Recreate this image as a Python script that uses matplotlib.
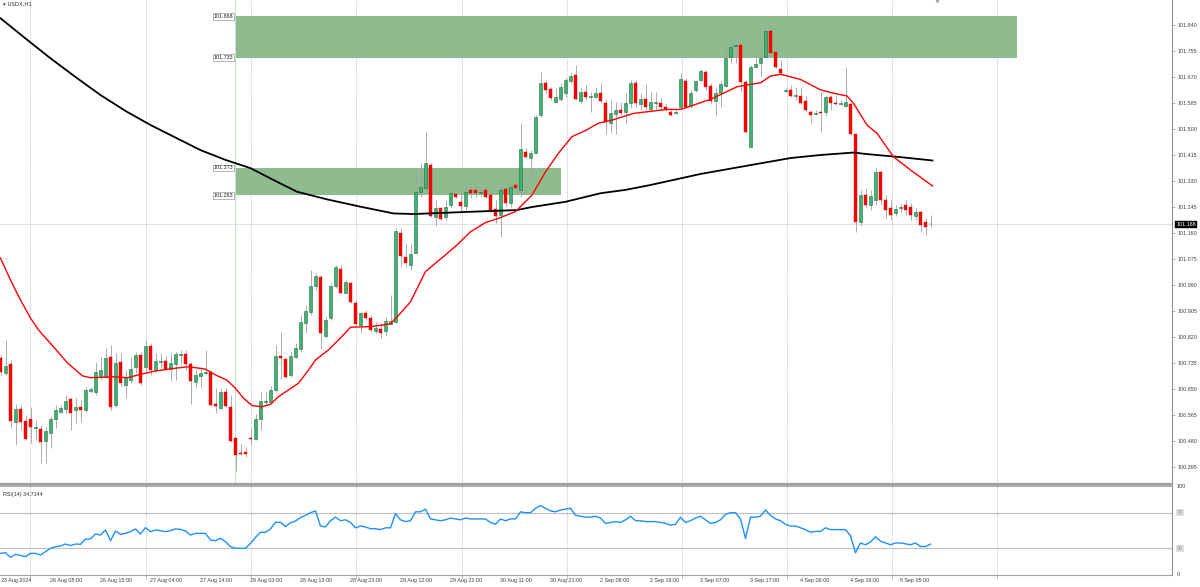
import matplotlib
matplotlib.use('Agg')
import matplotlib.pyplot as plt
from matplotlib.patches import Rectangle
import numpy as np

# ---------------- data ----------------
opens = [
100.751,100.701,100.732,100.542,100.585,100.545,100.551,100.522,100.519,100.481,
100.505,100.551,100.576,100.585,100.616,100.581,100.590,100.581,100.644,100.641,
100.690,100.690,100.756,100.598,100.739,100.663,100.679,100.723,100.761,100.723,
100.791,100.712,100.737,100.742,100.715,100.731,100.761,100.765,100.732,100.672,
100.693,100.702,100.707,100.601,100.588,100.641,100.590,100.491,100.440,100.445,
100.491,100.486,100.552,100.607,100.609,100.647,100.758,100.747,100.696,100.756,
100.781,100.865,100.903,100.987,101.017,100.823,100.881,100.987,101.041,100.965,
100.998,100.932,100.859,100.898,100.881,100.841,100.845,100.841,100.863,100.870,
101.161,101.083,101.055,101.096,101.293,101.306,101.382,101.211,101.241,101.213,
101.252,101.288,101.262,101.248,101.301,101.301,101.292,101.301,101.284,101.238,
101.219,101.303,101.257,101.317,101.301,101.426,101.406,101.422,101.546,101.651,
101.631,101.589,101.597,101.617,101.657,101.677,101.592,101.622,101.604,101.606,
101.618,101.586,101.519,101.549,101.562,101.557,101.586,101.651,101.582,101.597,
101.564,101.584,101.586,101.573,101.557,101.551,101.573,101.658,101.575,101.628,
101.660,101.686,101.640,101.593,101.617,101.640,101.736,101.771,101.775,101.655,
101.442,101.704,101.717,101.736,101.821,101.751,101.696,101.625,101.628,101.608,
101.608,101.593,101.557,101.549,101.557,101.557,101.606,101.586,101.583,101.576,
101.582,101.484,101.196,101.284,101.252,101.268,101.360,101.268,101.242,101.225,
101.242,101.252,101.245,101.216,101.229,101.196,101.190]
highs = [
100.761,100.810,100.745,100.601,100.598,100.565,100.592,100.549,100.532,100.527,
100.562,100.598,100.598,100.630,100.621,100.621,100.614,100.658,100.657,100.739,
100.756,100.784,100.794,100.768,100.768,100.712,100.756,100.772,100.772,100.810,
100.800,100.768,100.768,100.761,100.768,100.772,100.778,100.778,100.739,100.712,
100.723,100.778,100.712,100.652,100.652,100.652,100.630,100.494,100.469,100.461,
100.522,100.567,100.641,100.641,100.660,100.794,100.835,100.752,100.772,100.800,
100.892,100.925,101.039,101.028,101.023,100.886,100.996,101.055,101.055,101.006,
101.001,100.941,100.903,100.908,100.892,100.870,100.865,100.886,100.957,101.175,
101.175,101.126,101.126,101.366,101.388,101.491,101.388,101.268,101.246,101.268,
101.301,101.295,101.295,101.306,101.317,101.317,101.314,101.317,101.295,101.268,
101.311,101.311,101.317,101.322,101.519,101.437,101.431,101.546,101.687,101.660,
101.638,101.633,101.649,101.666,101.682,101.709,101.633,101.644,101.622,101.638,
101.649,101.597,101.595,101.589,101.589,101.617,101.660,101.660,101.617,101.647,
101.622,101.622,101.600,101.585,101.568,101.562,101.682,101.666,101.628,101.660,
101.695,101.693,101.649,101.638,101.658,101.758,101.775,101.777,101.780,101.660,
101.709,101.747,101.775,101.837,101.837,101.758,101.726,101.633,101.644,101.636,
101.633,101.608,101.562,101.562,101.622,101.611,101.611,101.611,101.595,101.704,
101.586,101.487,101.301,101.307,101.301,101.373,101.366,101.284,101.268,101.252,
101.255,101.268,101.258,101.242,101.235,101.209,101.219]
lows = [
100.693,100.696,100.523,100.467,100.516,100.483,100.474,100.483,100.408,100.408,
100.457,100.523,100.572,100.572,100.516,100.539,100.543,100.576,100.637,100.630,
100.679,100.686,100.581,100.592,100.658,100.621,100.669,100.701,100.663,100.701,
100.696,100.701,100.719,100.712,100.676,100.679,100.729,100.712,100.601,100.654,
100.652,100.696,100.596,100.571,100.585,100.592,100.478,100.382,100.434,100.427,
100.467,100.483,100.516,100.598,100.604,100.641,100.684,100.687,100.690,100.750,
100.772,100.832,100.892,100.974,100.780,100.816,100.876,100.979,100.963,100.961,
100.932,100.859,100.832,100.876,100.837,100.832,100.816,100.822,100.859,100.865,
101.050,101.050,101.039,101.094,101.279,101.295,101.213,101.183,101.203,101.203,
101.241,101.274,101.230,101.230,101.274,101.279,101.278,101.274,101.230,101.193,
101.148,101.248,101.246,101.301,101.279,101.404,101.333,101.421,101.540,101.617,
101.595,101.584,101.593,101.606,101.649,101.595,101.584,101.595,101.557,101.600,
101.584,101.484,101.486,101.484,101.546,101.519,101.568,101.573,101.562,101.562,
101.557,101.562,101.562,101.559,101.543,101.549,101.568,101.568,101.568,101.622,
101.655,101.628,101.582,101.543,101.573,101.638,101.715,101.715,101.622,101.488,
101.440,101.704,101.671,101.731,101.742,101.698,101.676,101.622,101.604,101.595,
101.582,101.557,101.519,101.546,101.491,101.543,101.562,101.578,101.578,101.573,
101.480,101.163,101.183,101.242,101.235,101.252,101.252,101.209,101.203,101.216,
101.225,101.219,101.203,101.203,101.163,101.153,101.180]
closes = [
100.706,100.725,100.547,100.585,100.542,100.487,100.527,100.527,100.478,100.513,
100.551,100.581,100.587,100.611,100.571,100.590,100.581,100.647,100.649,100.707,
100.712,100.750,100.592,100.736,100.669,100.690,100.717,100.761,100.669,100.791,
100.712,100.742,100.742,100.715,100.736,100.765,100.764,100.731,100.676,100.696,
100.701,100.707,100.599,100.595,100.641,100.595,100.481,100.434,100.439,100.437,
100.486,100.552,100.611,100.611,100.647,100.758,100.750,100.690,100.758,100.785,
100.870,100.905,100.987,101.020,100.832,100.876,100.987,101.048,100.965,101.001,
100.935,100.863,100.898,100.881,100.843,100.849,100.832,100.872,100.872,101.167,
101.085,101.061,101.091,101.295,101.312,101.388,101.216,101.241,101.206,101.246,
101.292,101.277,101.248,101.295,101.292,101.292,101.295,101.279,101.235,101.216,
101.301,101.259,101.311,101.306,101.434,101.410,101.422,101.540,101.651,101.628,
101.602,101.606,101.638,101.660,101.673,101.597,101.622,101.606,101.608,101.617,
101.593,101.523,101.551,101.562,101.551,101.586,101.651,101.586,101.597,101.573,
101.587,101.588,101.571,101.564,101.546,101.556,101.662,101.573,101.617,101.658,
101.691,101.636,101.593,101.617,101.647,101.731,101.769,101.775,101.655,101.491,
101.702,101.713,101.731,101.821,101.747,101.702,101.682,101.628,101.608,101.611,
101.586,101.562,101.546,101.553,101.551,101.606,101.584,101.582,101.585,101.587,
101.484,101.196,101.284,101.252,101.281,101.360,101.268,101.235,101.219,101.238,
101.245,101.235,101.219,101.229,101.186,101.180,101.188]

# red moving average (bar index, price)
ma_red_bar = [0,2,4,6,7.6,10.6,13.4,16.4,18,20,22.6,25.4,28,31,35,37.6,41,43,45.3,47,
              48.6,50.3,52.3,54,55.6,57.6,59.6,61.6,63,65.6,68,70,74,78,80,82,85,88.6,91.3,94,
              97,99.6,103,106.3,109,111.6,114.3,117,119.6,122.3,126.6,133.3,136,138.6,142,144.6,
              147.3,149.3,152,154,156,160,164,166.6,169.3,170.6,173.3,175.3,178.6,182,186.4]
ma_red_val = [101.078,101.006,100.941,100.882,100.843,100.788,100.735,100.693,100.687,100.688,
              100.690,100.687,100.698,100.709,100.718,100.723,100.715,100.696,100.679,100.652,
              100.620,100.596,100.592,100.600,100.625,100.647,100.669,100.712,100.745,100.778,
              100.817,100.852,100.854,100.863,100.898,100.935,101.034,101.083,101.121,101.164,
              101.194,101.208,101.230,101.284,101.360,101.421,101.475,101.495,101.519,101.529,
              101.551,101.564,101.564,101.578,101.597,101.617,101.638,101.644,101.651,101.673,
              101.679,101.662,101.628,101.617,101.608,101.584,101.513,101.486,101.409,101.366,
              101.314]
# black moving average
ma_blk_bar = [0,5,10,15,20,25,30,35,40,45,50,55,59.3,65.3,72,78.6,82.6,93.3,103.3,106.3,
              113,120,125,130,140,150,158,164,170.6,173.3,180,186.4]
ma_blk_val = [101.862,101.796,101.731,101.670,101.611,101.559,101.513,101.472,101.431,101.399,
              101.372,101.330,101.295,101.270,101.246,101.224,101.222,101.229,101.235,101.245,
              101.262,101.290,101.301,101.317,101.353,101.382,101.405,101.415,101.423,101.418,
              101.408,101.397]

rsi = [24.3,25.1,19.9,23.2,22.1,20.6,24.3,24.3,22.5,26.2,
       30.0,31.8,32.6,34.8,33.0,34.8,34.5,40.4,40.4,46.1,
       44.9,50.6,38.6,49.4,45.7,46.8,48.7,51.7,46.1,53.2,
       48.7,50.6,49.8,48.7,49.8,51.7,51.3,49.4,44.9,46.8,
       46.8,46.8,39.3,38.6,41.2,37.5,31.8,30.0,30.0,30.0,
       35.6,42.3,48.0,48.0,51.7,59.2,59.2,54.3,58.8,60.7,
       64.4,67,70,72,55,54,61,65,61,62,
       59,53,55,54,52,52,51,53,53,69,
       62,60,61,71,71,74,63,62,61,62,
       64,63,62,64,63,63,63,63,59,57,
       63,61,63,63,71,70,70,75,78,75,
       72,71,73,74,75,67,66,65,65,66,
       64,58,59,60,59,62,66,61,61,60,
       60,60,59,58,56,57,65,59,61,64,
       66,62,58,59,62,68,70,70,63,41,
       65,65,66,73,67,63,61,57,55,55,
       53,51,48,49,49,53,51,51,51,51,
       44,25,36,34,37,43,38,36,34,36,
       36,35,34,36,32,32,34.7144]

zone_low = [101.733, 101.283]
zone_high = [101.868, 101.373]
zone_start = [47.1, 47.1]
zone_end = [203.2, 112.1]

price_ticks = [101.840,101.755,101.670,101.585,101.500,101.415,101.330,101.245,101.160,
               101.075,100.990,100.905,100.820,100.735,100.650,100.565,100.480,100.395]
current_price = 101.188
rsi_current = 34.7144

time_labels = ["23 Aug 2024","26 Aug 05:00","26 Aug 15:00","27 Aug 04:00","27 Aug 14:00",
               "28 Aug 03:00","28 Aug 13:00","28 Aug 23:00","29 Aug 12:00","29 Aug 22:00",
               "30 Aug 11:00","30 Aug 21:00","2 Sep 08:00","2 Sep 18:00","3 Sep 07:00",
               "3 Sep 17:00","4 Sep 06:00","4 Sep 16:00","5 Sep 05:00"]
time_label_bars = list(range(0, 181, 10))
grid_bars = [5.9, 29.0, 50.1, 71.0, 92.2, 113.2, 136.2, 157.2, 178.2, 199.2]

# ---------------- figure ----------------
W, H = 1200, 587
FONT = 'Liberation Sans'
FS = 3.9
fig = plt.figure(figsize=(W/100, H/100), dpi=100)
fig.patch.set_facecolor('white')

def fy(ypx):
    return 1 - ypx / H

ax = fig.add_axes([0, fy(484), 1172 / W, 484 / H])
axr = fig.add_axes([0, fy(575), 1172 / W, 89 / H], sharex=ax)

XL = (-0.1, 234.3)
ax.set_xlim(*XL)
ax.set_ylim(100.3395, 101.9217)

o = np.array(opens); h = np.array(highs); l = np.array(lows); c = np.array(closes)
idx = np.arange(len(o))
up = c >= o

# grid lines
for g in grid_bars:
    ax.axvline(g, color='#b0b0b0', lw=0.6, ls=(0, (1, 1.5)), zorder=0.6)
    axr.axvline(g, color='#b0b0b0', lw=0.6, ls=(0, (1, 1.5)), zorder=0.6)

# zones
for lo, hi, s, e in zip(zone_low, zone_high, zone_start, zone_end):
    ax.add_patch(Rectangle((s, lo), e - s, hi - lo, facecolor='#8fbc8f', edgecolor='none', zorder=1))
    for v in (lo, hi):
        ax.text(s - 0.6, v, f'{v:.3f}', ha='right', va='center', fontsize=FS, family=FONT,
                color='#202020', zorder=7,
                bbox=dict(boxstyle='square,pad=0.15', fc='white', ec='#808080', lw=0.4))

# vertical line object
ax.axvline(46.9, color='#c4e6c4', lw=0.7, zorder=0.7)
# bid line
ax.axhline(current_price, color='#dcdcdc', lw=0.6, zorder=0.7)

# candles
ax.vlines(idx, l, h, color='#a0a0a0', lw=0.6, zorder=3)
body_lo = np.minimum(o, c)
body_h = np.maximum(np.abs(c - o), 0.0015)
ax.bar(idx[up], body_h[up], bottom=body_lo[up], width=0.74, color='#3cb371',
       edgecolor='#2b6e45', linewidth=0.4, zorder=4)
ax.bar(idx[~up], body_h[~up], bottom=body_lo[~up], width=0.74, color='#ff0000',
       edgecolor='#e00000', linewidth=0.3, zorder=4)

# moving averages
ax.plot(ma_blk_bar, ma_blk_val, color='black', lw=1.3, zorder=5, solid_joinstyle='round')
ax.plot(ma_red_bar, ma_red_val, color='red', lw=1.0, zorder=5, solid_joinstyle='round')

# main axes styling
for s in ('top', 'left'):
    ax.spines[s].set_visible(False)
ax.spines['right'].set_color('#909090'); ax.spines['right'].set_linewidth(0.8)
ax.spines['bottom'].set_color('#a0a0a0'); ax.spines['bottom'].set_linewidth(1.6)
ax.yaxis.tick_right()
ax.set_yticks(price_ticks)
ax.set_yticklabels([f'{p:.3f}' for p in price_ticks], fontsize=FS, family=FONT, color='#404040')
ax.tick_params(axis='y', length=2, width=0.5, color='#909090', pad=2)
ax.tick_params(axis='x', bottom=False, labelbottom=False)

ax.text(1.0035, current_price, f'{current_price:.3f}', transform=ax.get_yaxis_transform(),
        ha='left', va='center', fontsize=FS, family=FONT, color='white', zorder=8, clip_on=False,
        bbox=dict(boxstyle='square,pad=0.2', fc='black', ec='black', lw=0.3))
ax.text(0.0025, 1 - 4 / 484, '\u25be USDX,H1', transform=ax.transAxes, ha='left', va='center',
        fontsize=FS, family=['DejaVu Sans'], color='#303030')
ax.plot([187.3], [ax.get_ylim()[1]], marker='v', ms=3, color='#a8a8a8', clip_on=False, zorder=8)

# RSI panel
axr.set_ylim(0, 100)
axr.axhline(70, color='#c0c0c0', lw=0.8, zorder=1)
axr.axhline(30, color='#c0c0c0', lw=0.8, zorder=1)
axr.plot(idx, rsi, color='#1e90ff', lw=1.0, zorder=5)
axr.spines['left'].set_visible(False)
axr.spines['top'].set_color('#a0a0a0'); axr.spines['top'].set_linewidth(1.2)
axr.spines['right'].set_color('#909090'); axr.spines['right'].set_linewidth(0.8)
axr.spines['bottom'].set_color('#a0a0a0'); axr.spines['bottom'].set_linewidth(0.8)
axr.yaxis.tick_right()
axr.set_yticks([])
for v, lab, col in [(100, '100', '#404040'), (70, '70', '#909090'), (30, '30', '#909090'), (0, '0', '#404040')]:
    kw = {}
    if v in (70, 30):
        kw['bbox'] = dict(boxstyle='square,pad=0.15', fc='#e0e0e0', ec='none')
    axr.text(1.004, v, lab, transform=axr.get_yaxis_transform(), ha='left', va='center',
             fontsize=FS, family=FONT, color=col, clip_on=False, **kw)
axr.text(0.0025, 0.9, f'RSI(14) {rsi_current:.4f}', transform=axr.transAxes, ha='left', va='center',
         fontsize=FS, family=FONT, color='#303030')

axr.set_xticks(time_label_bars)
axr.set_xticklabels(time_labels, fontsize=FS, family=FONT, color='#404040', ha='left')
axr.tick_params(axis='x', which='major', length=0, pad=2.5)
axr.set_xticks(grid_bars, minor=True)
axr.tick_params(axis='x', which='minor', length=3, width=0.5, color='#a0a0a0')
axr.set_xlim(*XL)

fig.savefig('out.png', dpi=100, facecolor='white')
